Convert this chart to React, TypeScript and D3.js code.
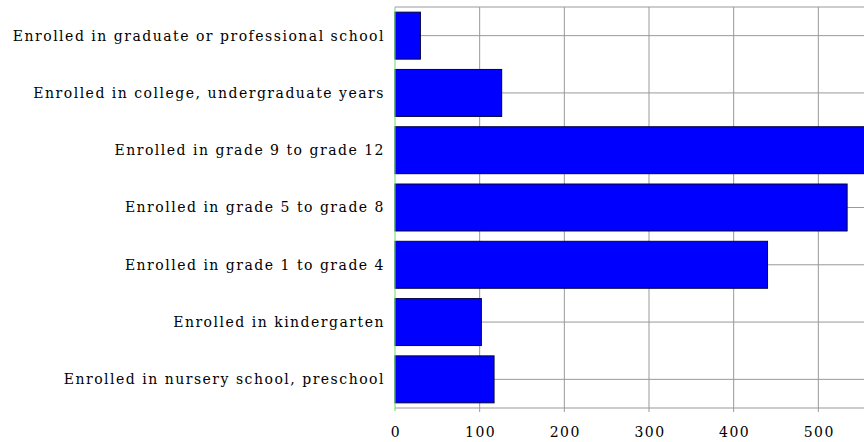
import React, { useEffect, useRef } from "react";
import * as d3 from "d3";

const categories = [
  "Enrolled in graduate or professional school",
  "Enrolled in college, undergraduate years",
  "Enrolled in grade 9 to grade 12",
  "Enrolled in grade 5 to grade 8",
  "Enrolled in grade 1 to grade 4",
  "Enrolled in kindergarten",
  "Enrolled in nursery school, preschool",
];
const values = [30, 126, 575, 534, 440, 102, 117];
const xTicks = [0, 100, 200, 300, 400, 500];

const App = () => {
  const ref = useRef<SVGSVGElement>(null);
  const width = 864;
  const height = 442;
  const margin = { top: 7, left: 395, bottom: 34 };

  useEffect(() => {
    const svg = d3.select(ref.current);
    svg.selectAll("*").remove();

    const x = d3
      .scaleLinear()
      .domain([0, 600])
      .range([margin.left, margin.left + 508]);
    const y = d3
      .scaleBand()
      .domain(categories)
      .range([margin.top, height - margin.bottom])
      .paddingInner(0.18)
      .paddingOuter(0.09);
    const bottom = height - margin.bottom;

    // vertical grid
    svg
      .append("g")
      .selectAll("line")
      .data(xTicks.slice(1))
      .enter()
      .append("line")
      .attr("x1", (d) => x(d))
      .attr("x2", (d) => x(d))
      .attr("y1", margin.top)
      .attr("y2", bottom + 4)
      .attr("stroke", "#999")
      .attr("stroke-width", 1);

    // horizontal grid at category centres + top/bottom lines
    svg
      .append("g")
      .selectAll("line")
      .data(categories)
      .enter()
      .append("line")
      .attr("x1", margin.left)
      .attr("x2", width)
      .attr("y1", (d) => y(d)! + y.bandwidth() / 2)
      .attr("y2", (d) => y(d)! + y.bandwidth() / 2)
      .attr("stroke", "#999");
    [margin.top, bottom].forEach((yy) => {
      svg
        .append("line")
        .attr("x1", margin.left)
        .attr("x2", width)
        .attr("y1", yy)
        .attr("y2", yy)
        .attr("stroke", "#999");
    });

    // bars
    svg
      .append("g")
      .selectAll("rect")
      .data(values)
      .enter()
      .append("rect")
      .attr("x", x(0))
      .attr("y", (d, i) => y(categories[i])!)
      .attr("width", (d) => x(d) - x(0))
      .attr("height", y.bandwidth())
      .attr("fill", "#0000ff")
      .attr("stroke", "#000040")
      .attr("stroke-width", 1);

    // left axis line
    svg
      .append("line")
      .attr("x1", margin.left)
      .attr("x2", margin.left)
      .attr("y1", margin.top)
      .attr("y2", bottom + 3)
      .attr("stroke", "#66dd66")
      .attr("stroke-width", 1);

    // category labels
    svg
      .append("g")
      .selectAll("text")
      .data(categories)
      .enter()
      .append("text")
      .attr("x", margin.left - 10)
      .attr("y", (d) => y(d)! + y.bandwidth() / 2)
      .attr("dy", "0.35em")
      .attr("text-anchor", "end")
      .attr("font-family", "DejaVu Serif")
      .attr("font-size", 14)
      .attr("letter-spacing", 1.5)
      .attr("fill", "#000")
      .text((d) => d);

    // tick labels
    svg
      .append("g")
      .selectAll("text")
      .data(xTicks)
      .enter()
      .append("text")
      .attr("x", (d) => x(d) + 1)
      .attr("y", bottom + 29)
      .attr("text-anchor", "middle")
      .attr("font-family", "DejaVu Serif")
      .attr("font-size", 14)
      .attr("letter-spacing", 1.5)
      .attr("fill", "#000")
      .text((d) => d);
  }, []);

  return (
    <svg
      ref={ref}
      width={width}
      height={height}
      style={{ position: "absolute", left: 0, top: 0, background: "#fff" }}
    ></svg>
  );
};

export default App;
